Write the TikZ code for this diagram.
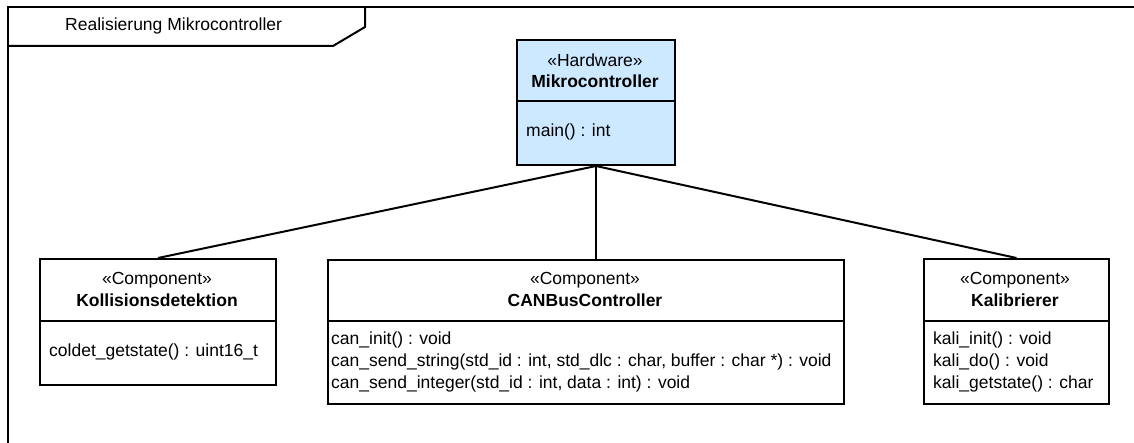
\documentclass[tikz,border=0pt]{standalone}
\usepackage{fontspec}
\setmainfont{Liberation Sans}
\definecolor{hwfill}{RGB}{204,233,255}
\begin{document}
\begin{tikzpicture}[x=1pt,y=-1pt,
  every node/.style={font=\fontsize{17.5}{21.7}\selectfont, inner sep=0pt},
  umlbox/.style={draw=black, line width=2pt, anchor=north west, fill=white},
  sep/.style={draw=black, line width=2pt},
  link/.style={draw=black, line width=2pt},
  frameline/.style={draw=black, line width=2pt},
  stereo/.style={anchor=center},
  cname/.style={anchor=center, font=\fontsize{17.5}{21.7}\selectfont\bfseries},
  ops/.style={anchor=west, align=left}
]
\useasboundingbox (0,0) rectangle (1134,443);

% package frame with its name tab
\draw[frameline] (8,443) -- (8,7) -- (1134,7);
\draw[frameline] (8,46) -- (333,46) -- (365,27) -- (365,7);
\node[anchor=west] (framename) at (65,26) {Realisierung Mikrocontroller};

% Mikrocontroller (hardware)
\node[umlbox, fill=hwfill, minimum width=158pt, minimum height=125pt] (mk) at (516,39) {};
\draw[sep] (516,101) -- (674,101);
\node[stereo] (mkst) at (595,60) {«Hardware»};
\node[cname] (mkname) at (595,81) {Mikrocontroller};
\node[ops] (mkops) at (526,132) {main() : int};

% Kollisionsdetektion
\node[umlbox, minimum width=236pt, minimum height=126pt] (kd) at (39,258) {};
\draw[sep] (39,321) -- (275,321);
\node[stereo] (kdst) at (157,280) {«Component»};
\node[cname] (kdname) at (157,300) {Kollisionsdetektion};
\node[ops] (kdops) at (49,352) {coldet\_getstate() : uint16\_t};

% CANBusController
\node[umlbox, minimum width=516pt, minimum height=144pt] (can) at (327,259) {};
\draw[sep] (327,321) -- (843,321);
\node[stereo] (canst) at (585,280) {«Component»};
\node[cname] (canname) at (585,300) {CANBusController};
\node[ops] (canops) at (331,362) {can\_init() : void\\
can\_send\_string(std\_id : int, std\_dlc : char, buffer : char *) : void\\
can\_send\_integer(std\_id : int, data : int) : void};

% Kalibrierer
\node[umlbox, minimum width=185pt, minimum height=145pt] (kal) at (923,258) {};
\draw[sep] (923,321) -- (1108,321);
\node[stereo] (kalst) at (1015,280) {«Component»};
\node[cname] (kalname) at (1015,300) {Kalibrierer};
\node[ops] (kalops) at (933,362) {kali\_init() : void\\
kali\_do() : void\\
kali\_getstate() : char};

% realisation links
\draw[link] (mk.south) -- (kd.north);
\draw[link] (mk.south) -- (mk.south |- can.north);
\draw[link] (mk.south) -- (kal.north);
\end{tikzpicture}
\end{document}
